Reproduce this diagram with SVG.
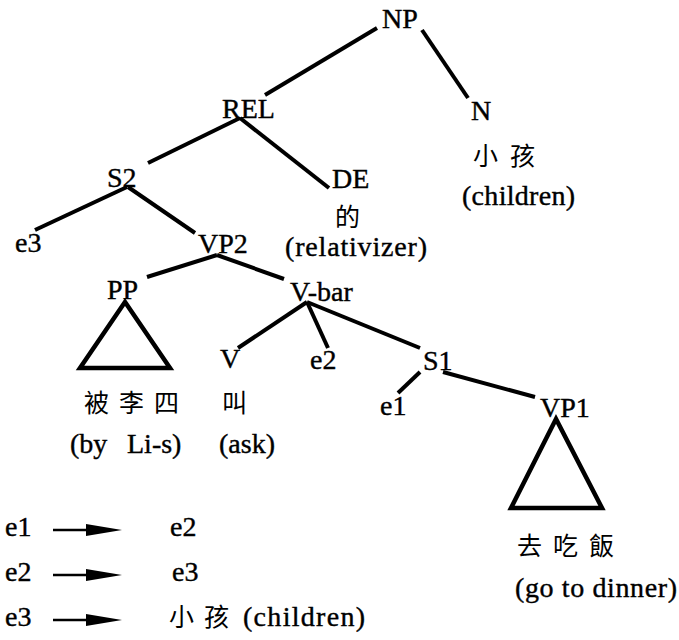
<svg xmlns="http://www.w3.org/2000/svg" width="679" height="640" viewBox="0 0 679 640">
<style>
text.t{font-family:'Liberation Serif','Times New Roman',serif;font-size:28px;fill:#000;stroke:#000;stroke-width:0.4}
text.c{font-family:'Noto Sans CJK TC','Noto Sans CJK SC',sans-serif;font-size:25px;fill:#000}
.e{stroke:#000;stroke-width:4;fill:none;stroke-linecap:butt}
.tri{stroke:#000;stroke-width:4.5;fill:none;stroke-linejoin:miter}
.ar{stroke:#000;stroke-width:2.5}
</style>
<rect width="679" height="640" fill="#fff"/>
<g id="connectors">
<line class="e" x1="377" y1="28" x2="265" y2="95"/>
<line class="e" x1="422" y1="30" x2="468" y2="98"/>
<line class="e" x1="240" y1="118" x2="148" y2="163"/>
<line class="e" x1="240" y1="118" x2="329" y2="188"/>
<line class="e" x1="127" y1="187" x2="35" y2="230"/>
<line class="e" x1="128" y1="187" x2="195" y2="233"/>
<line class="e" x1="217" y1="255" x2="147" y2="277"/>
<line class="e" x1="217" y1="255" x2="284" y2="279"/>
<line class="e" x1="307" y1="302" x2="238" y2="348"/>
<line class="e" x1="307" y1="302" x2="328" y2="348"/>
<line class="e" x1="307" y1="302" x2="420" y2="348"/>
<line class="e" x1="420" y1="372" x2="398" y2="393"/>
<line class="e" x1="443" y1="372" x2="535" y2="397"/>
</g>
<g id="NP"><text class="t" x="382" y="28">NP</text></g>
<g id="REL"><text class="t" x="222" y="118">REL</text></g>
<g id="N"><text class="t" x="471" y="120">N</text>
<text class="c" x="473 510" y="165">小孩</text>
<text class="t" x="462" y="205" textLength="113">(children)</text></g>
<g id="S2"><text class="t" x="107" y="187">S2</text></g>
<g id="DE"><text class="t" x="332" y="188">DE</text>
<text class="c" x="335" y="226">的</text>
<text class="t" x="285" y="256" textLength="142">(relativizer)</text></g>
<g id="e3"><text class="t" x="15" y="252">e3</text></g>
<g id="VP2"><text class="t" x="198" y="253">VP2</text></g>
<g id="PP"><text class="t" x="107" y="299">PP</text>
<polygon class="tri" points="125,302 80,368 170,368"/>
<text class="c" x="84 119 154" y="412">被李四</text>
<text class="t" x="70" y="453">(by</text><text class="t" x="127" y="453">Li-s)</text></g>
<g id="V-bar"><text class="t" x="290" y="301">V-bar</text></g>
<g id="V"><text class="t" x="220" y="368">V</text>
<text class="c" x="222" y="412">叫</text>
<text class="t" x="219" y="453">(ask)</text></g>
<g id="e2"><text class="t" x="310" y="369">e2</text></g>
<g id="S1"><text class="t" x="423" y="370">S1</text></g>
<g id="e1"><text class="t" x="380" y="415">e1</text></g>
<g id="VP1"><text class="t" x="540" y="417">VP1</text>
<polygon class="tri" points="556,419 511,508 602,508"/>
<text class="c" x="517 553 589" y="555">去吃飯</text>
<text class="t" x="515" y="597" textLength="162">(go to dinner)</text></g>
<g id="legend">
<text class="t" x="5" y="536">e1</text>
<line class="ar" x1="53" y1="530" x2="100" y2="530"/>
<polygon points="86,524 122,530 86,536" fill="#000"/>
<text class="t" x="170" y="536">e2</text>
<text class="t" x="5" y="581">e2</text>
<line class="ar" x1="53" y1="575" x2="100" y2="575"/>
<polygon points="86,569 122,575 86,581" fill="#000"/>
<text class="t" x="172" y="581">e3</text>
<text class="t" x="5" y="626">e3</text>
<line class="ar" x1="53" y1="620" x2="100" y2="620"/>
<polygon points="86,614 122,620 86,626" fill="#000"/>
<text class="c" x="169 204" y="626">小孩</text>
<text class="t" x="243" y="626" textLength="122">(children)</text>
</g>
</svg>
